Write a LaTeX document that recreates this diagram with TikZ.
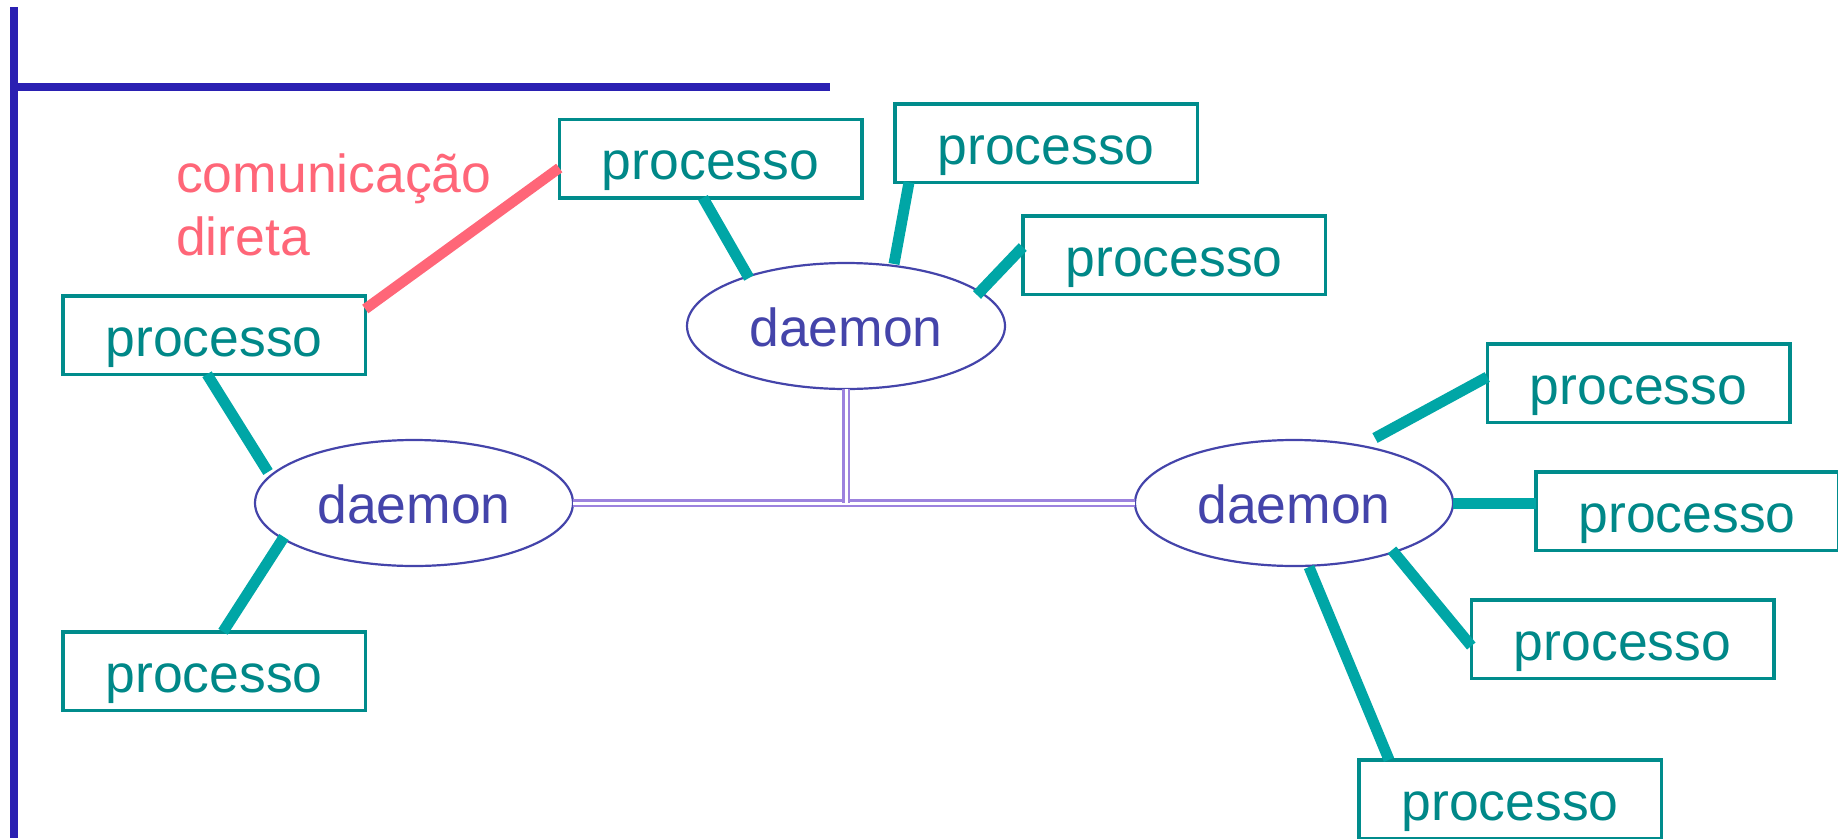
\documentclass[tikz,border=0pt]{standalone}
\usepackage{fontspec}
\setmainfont{Liberation Sans}
\usetikzlibrary{shapes.geometric,calc}
\definecolor{frameblue}{RGB}{42,32,178}
\definecolor{boxteal}{RGB}{0,140,140}
\definecolor{textteal}{RGB}{0,136,136}
\definecolor{linkteal}{RGB}{0,166,166}
\definecolor{daemonblue}{RGB}{68,68,170}
\definecolor{directred}{RGB}{255,102,120}
\definecolor{buspurple}{RGB}{156,130,222}
\begin{document}
\begin{tikzpicture}[x=1pt,y=-1pt,
  procbox/.style={draw=boxteal, line width=3.5pt, minimum width=302.5pt, minimum height=78.5pt,
    inner sep=0pt, outer sep=0pt, text=textteal, font=\fontsize{53.5}{63}\selectfont,
    text height=42pt, text depth=0pt},
  daemonnode/.style={ellipse, draw=daemonblue, line width=2.2pt, minimum width=318pt, minimum height=126pt,
    inner sep=0pt, outer sep=0pt, text=daemonblue, font=\fontsize{53.5}{63}\selectfont,
    text height=40pt, text depth=0pt},
  link/.style={draw=linkteal, line width=11pt},
  direct/.style={draw=directred, line width=10.5pt},
  bus/.style={draw=buspurple, double=white, double distance=3pt, line width=2.5pt},
  frameline/.style={draw=frameblue, line width=8pt},
  labeltext/.style={text=directred, font=\fontsize{53.5}{63}\selectfont, inner sep=0pt, align=left}
]
\useasboundingbox (0,0) rectangle (1838,838);

% frame
\draw[frameline] (14,7) -- (14,838);
\draw[frameline] (10,87) -- (830,87);

% daemons
\node[daemonnode] (T) at (846,326) {daemon};
\node[daemonnode] (L) at (414,503) {daemon};
\node[daemonnode] (R) at (1294,503) {daemon};

% bus
\draw[bus] (L.east) -- (R.west);
\draw[bus] (T.south) -- (T.south |- L.east);

% process boxes
\node[procbox] (boxA) at (710.5,158.5) {processo};
\node[procbox] (boxB) at (1046,143) {processo};
\node[procbox] (boxC) at (1174,255) {processo};
\node[procbox] (boxD) at (214,335) {processo};
\node[procbox] (boxE) at (214,671) {processo};
\node[procbox] (boxF) at (1638.5,383) {processo};
\node[procbox] (boxG) at (1687,511) {processo};
\node[procbox] (boxH) at (1622.5,639) {processo};
\node[procbox] (boxI) at (1510,799) {processo};

% label
\node[labeltext, anchor=base west] (lbl) at (176,255) {comunicação\\direta};

% links
\draw[link] ($(boxA.south)+(-7.5,0)$) -- ($(T.center)+(-97,-48)$);
\draw[link] ($(boxB.south)+(-137,0)$) -- ($(T.center)+(48,-62)$);
\draw[link] ($(boxC.west)+(0,-8)$) -- ($(T.center)+(131,-31)$);
\draw[link] ($(boxD.south)+(-7,0)$) -- ($(L.center)+(-146,-31)$);
\draw[link] ($(L.center)+(-130,34)$) -- ($(boxE.north)+(9,0)$);
\draw[link] ($(R.center)+(81,-65)$) -- ($(boxF.west)+(0,-6)$);
\draw[link] (R.east) -- (R.east -| boxG.west);
\draw[link] ($(R.center)+(98,47)$) -- ($(boxH.west)+(0,7)$);
\draw[link] ($(R.center)+(15,64)$) -- ($(boxI.north)+(-121,0)$);

% direct communication
\draw[direct] ($(boxD.east)+(0,-26)$) -- ($(boxA.west)+(0,9.5)$);
\end{tikzpicture}
\end{document}
